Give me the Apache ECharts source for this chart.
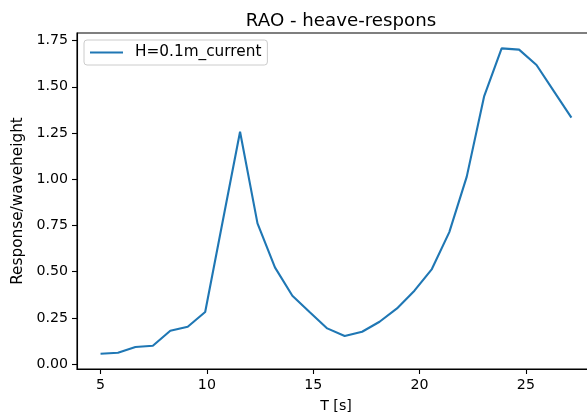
<!DOCTYPE html>
<html>
<head>
<meta charset="utf-8">
<script src="https://cdn.jsdelivr.net/npm/echarts@6/dist/echarts.min.js"></script>
<style>
  html, body { margin: 0; padding: 0; background: #fff; }
  #chart { width: 587px; height: 417px; }
</style>
</head>
<body>
<div id="chart"></div>
<script>
// Wave period [s]
const periods = [5.00, 5.82, 6.64, 7.46, 8.28, 9.10, 9.92, 10.74, 11.56, 12.38,
  13.20, 14.02, 14.84, 15.66, 16.48, 17.30, 18.12, 18.94, 19.76, 20.58,
  21.40, 22.22, 23.04, 23.86, 24.68, 25.50, 26.32, 27.14];
// Heave response divided by wave height
const heaveResponse = [0.056, 0.061, 0.092, 0.099, 0.180, 0.202, 0.282, 0.770, 1.257, 0.761,
  0.523, 0.370, 0.280, 0.193, 0.152, 0.175, 0.229, 0.301, 0.397, 0.514,
  0.714, 1.014, 1.450, 1.708, 1.701, 1.618, 1.475, 1.333];
const seriesName = 'H=0.1m_current';
const xTicks = [5, 10, 15, 20, 25];
const yTicks = [0, 0.25, 0.5, 0.75, 1.0, 1.25, 1.5, 1.75];

const font = 'DejaVu Sans';
const chart = echarts.init(document.getElementById('chart'), null, { renderer: 'canvas' });

chart.setOption({
  animation: false,
  backgroundColor: '#ffffff',
  title: {
    text: 'RAO - heave-respons',
    left: 336, top: 7, textAlign: 'center',
    textStyle: { fontFamily: font, fontSize: 18.2, fontWeight: 'normal', color: '#000' }
  },
  legend: {
    left: 84, top: 40,
    padding: [5, 6, 5, 6],
    borderColor: '#cccccc', borderWidth: 1, borderRadius: 3,
    backgroundColor: 'rgba(255,255,255,0.8)',
    itemWidth: 33, itemHeight: 16, itemGap: 10,
    textStyle: { fontFamily: font, fontSize: 15.3, color: '#000', padding: [0, 0, 0, 7] },
    data: [{ name: seriesName, icon: 'path://M0,7 L33,7 L33,9 L0,9 Z' }]
  },
  grid: {
    left: 77, top: 33, width: 518, height: 336,
    outerBoundsMode: 'none', containLabel: false,
    show: true, borderColor: '#000', borderWidth: 1.1, backgroundColor: 'transparent'
  },
  xAxis: {
    type: 'value', min: 3.893, max: 28.25,
    name: 'T [s]', nameLocation: 'middle', nameGap: 30,
    nameTextStyle: { fontFamily: font, fontSize: 14.2, color: '#000' },
    axisLine: { show: true, onZero: false, lineStyle: { color: '#000', width: 1.1 } },
    axisTick: { show: true, inside: false, length: 5, customValues: xTicks, lineStyle: { color: '#000', width: 1.1 } },
    axisLabel: { margin: 9, fontFamily: font, fontSize: 14.2, color: '#000', customValues: xTicks, formatter: v => String(v) },
    splitLine: { show: false }
  },
  yAxis: {
    type: 'value', min: -0.0266, max: 1.791,
    name: 'Response/waveheight', nameLocation: 'middle', nameGap: 50, nameRotate: 90,
    nameTextStyle: { fontFamily: font, fontSize: 15.3, color: '#000' },
    axisLine: { show: true, onZero: false, lineStyle: { color: '#000', width: 1.1 } },
    axisTick: { show: true, inside: false, length: 5, customValues: yTicks, lineStyle: { color: '#000', width: 1.1 } },
    axisLabel: { margin: 9, fontFamily: font, fontSize: 14.2, color: '#000', customValues: yTicks, formatter: v => v.toFixed(2) },
    splitLine: { show: false }
  },
  series: [{
    name: seriesName,
    type: 'line',
    data: periods.map((t, i) => [t, heaveResponse[i]]),
    symbol: 'none',
    lineStyle: { color: '#1f77b4', width: 2.1 },
    itemStyle: { color: '#1f77b4' },
    clip: true
  }]
});
</script>
</body>
</html>
